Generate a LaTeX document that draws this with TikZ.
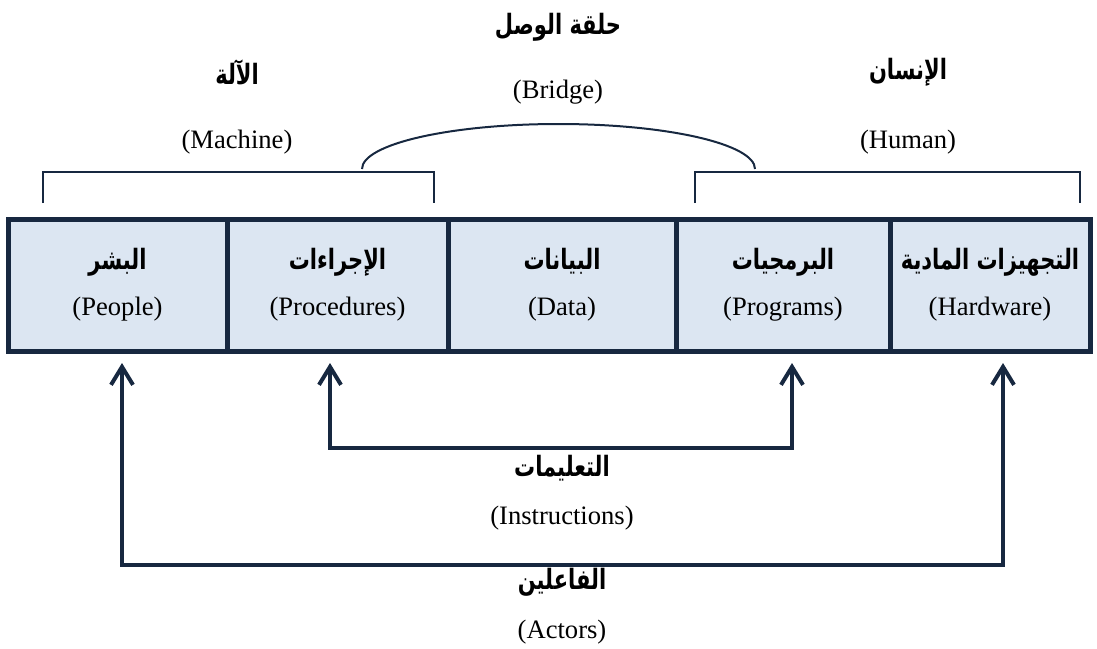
\documentclass[tikz,border=0pt]{standalone}
\usepackage{fontspec}
\setmainfont{Liberation Serif}
\newfontfamily\arabicfont[Script=Arabic, FakeStretch=0.75]{DejaVu Sans}
\TeXXeTstate=1
\usetikzlibrary{arrows.meta}
\definecolor{navy}{HTML}{172840}
\definecolor{cellblue}{HTML}{DCE6F2}

\begin{document}
\begin{tikzpicture}[x=0.5pt,y=-0.5pt,
  cell/.style={draw=navy, fill=cellblue, line width=2.5pt, minimum height=66pt,
    inner sep=0pt, outer sep=0pt, align=center,
    font=\fontsize{13.3}{16}\selectfont},
  ar/.style={font=\fontsize{14}{16}\selectfont\arabicfont\bfseries, inner sep=0pt},
  en/.style={font=\fontsize{13.3}{16}\selectfont, inner sep=0pt},
  brace/.style={draw=navy, line width=1pt},
  flow/.style={draw=navy, line width=2pt, <->,
    >={Straight Barb[length=9pt,width=11pt]}, shorten <=6pt, shorten >=6pt}]

\useasboundingbox (0,0) rectangle (1097,648);

% =========================
% MAIN STRIP (five components)
% =========================
\node[cell, minimum width=109.5pt] (people) at (117.5,285)
{{\arabicfont\bfseries\fontsize{14}{16}\selectfont\beginR البشر\endR}\\[7pt] (People)};
\node[cell, minimum width=110.5pt] (proc) at (337.5,285)
{{\arabicfont\bfseries\fontsize{14}{16}\selectfont\beginR الإجراءات\endR}\\[7pt] (Procedures)};
\node[cell, minimum width=114pt] (data) at (562,285)
{{\arabicfont\bfseries\fontsize{14}{16}\selectfont\beginR البيانات\endR}\\[7pt] (Data)};
\node[cell, minimum width=107pt] (prog) at (783,285)
{{\arabicfont\bfseries\fontsize{14}{16}\selectfont\beginR البرمجيات\endR}\\[7pt] (Programs)};
\node[cell, minimum width=100pt] (hard) at (990,285)
{{\arabicfont\bfseries\fontsize{14}{16}\selectfont\beginR التجهيزات المادية\endR}\\[7pt] (Hardware)};

% =========================
% TOP GROUPS (machine / bridge / human)
% =========================
\draw[brace] (43,203) |- (434,172) -- (434,203);
\draw[brace] (695,203) |- (1080,172) -- (1080,203);

% bridge arc
\draw[brace] (362,169) arc[start angle=180, end angle=360,
  x radius=196.5, y radius=45];

\node[ar] (machAr) at (237,72) {\beginR الآلة\endR};
\node[en] (machEn) at (237,142) {(Machine)};
\node[ar] (bridgeAr) at (558,27) {\beginR حلقة الوصل\endR};
\node[en] (bridgeEn) at (558,92) {(Bridge)};
\node[ar] (humAr) at (908,72) {\beginR الإنسان\endR};
\node[en] (humEn) at (908,142) {(Human)};

% =========================
% BOTTOM LINKS
% =========================
\coordinate (insL) at (330,448);
\coordinate (insR) at (792,448);
\coordinate (actL) at (122,565);
\coordinate (actR) at (1003,565);

\draw[flow] (insL |- proc.south) -- (insL) -- (insR) -- (insR |- prog.south);
\draw[flow] (actL |- people.south) -- (actL) -- (actR) -- (actR |- hard.south);

\node[ar] (insAr) at (562,468) {\beginR التعليمات\endR};
\node[en] (insEn) at (562,518) {(Instructions)};
\node[ar] (actAr) at (562,582) {\beginR الفاعلين\endR};
\node[en] (actEn) at (562,632) {(Actors)};

\end{tikzpicture}
\end{document}
